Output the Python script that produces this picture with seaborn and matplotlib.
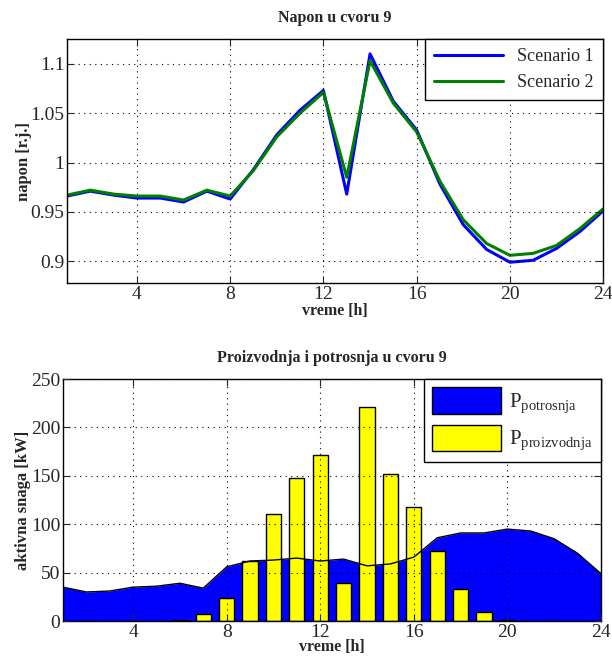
import numpy as np
import pandas as pd
import matplotlib
matplotlib.use('Agg')
import matplotlib.pyplot as plt
import seaborn as sns
from matplotlib.patches import Patch

sns.set_style('white')
plt.rcParams['font.family'] = ['Liberation Serif', 'DejaVu Serif']
plt.rcParams['mathtext.fontset'] = 'custom'
plt.rcParams['mathtext.rm'] = 'Liberation Serif'

hours = list(range(1, 25))
napon_s1 = [0.966, 0.971, 0.967, 0.964, 0.964, 0.960, 0.971, 0.963, 0.993, 1.028, 1.053, 1.073,
            0.968, 1.110, 1.062, 1.033, 0.978, 0.937, 0.912, 0.899, 0.901, 0.913, 0.930, 0.951]
napon_s2 = [0.967, 0.972, 0.968, 0.966, 0.966, 0.962, 0.972, 0.966, 0.992, 1.026, 1.050, 1.071,
            0.985, 1.103, 1.060, 1.031, 0.981, 0.942, 0.918, 0.906, 0.908, 0.916, 0.933, 0.953]
p_potrosnja = [35, 30, 31, 35, 36, 39, 34, 56, 62, 63, 65, 62,
               64, 57, 59, 66, 86, 91, 91, 95, 93, 85, 70, 49]
p_proizvodnja = [0, 0, 0, 0, 0, 1, 7, 24, 62, 111, 148, 172,
                 39, 221, 152, 118, 72, 33, 9, 1, 0, 0, 0, 0]

df_v = pd.DataFrame({'vreme': hours * 2,
                     'napon': napon_s1 + napon_s2,
                     'scenario': ['Scenario 1'] * 24 + ['Scenario 2'] * 24})

fig = plt.figure(figsize=(6.12, 6.61), dpi=100)
ax1 = fig.add_axes([0.1095, 0.5719, 0.876, 0.369])
ax2 = fig.add_axes([0.1029, 0.0605, 0.879, 0.366])

# --- top: napon ---
sns.lineplot(data=df_v, x='vreme', y='napon', hue='scenario',
             palette=['#0000ff', '#008000'], linewidth=2.2, ax=ax1, legend=False)
ax1.set_xlim(1, 24)
ax1.set_ylim(0.878, 1.125)
ax1.set_xticks([4, 8, 12, 16, 20, 24])
ax1.set_yticks([0.9, 0.95, 1.0, 1.05, 1.1])
ax1.set_yticklabels(['0.9', '0.95', '1', '1.05', '1.1'])
ax1.set_title('Napon u cvoru 9', fontsize=11.5, fontweight='bold', pad=12)
ax1.set_xlabel('vreme [h]', fontsize=11.5, fontweight='bold', labelpad=0)
ax1.set_ylabel('napon [r.j.]', fontsize=12, fontweight='bold', labelpad=-1)
h1 = [plt.Line2D([], [], color='#0000ff', lw=2.2), plt.Line2D([], [], color='#008000', lw=2.2)]
leg1 = ax1.legend(h1, ['Scenario 1', 'Scenario 2'], loc='upper right', fontsize=13,
                  handlelength=3.8, fancybox=False, framealpha=1, edgecolor='black',
                  borderaxespad=0, borderpad=0.5, labelspacing=0.5)
leg1.get_frame().set_linewidth(1.0)

# --- bottom: proizvodnja i potrosnja ---
ax2.fill_between(hours, p_potrosnja, 0, color='#0000ff', linewidth=0, zorder=1)
ax2.bar(hours, p_proizvodnja, width=0.65, color='#ffff00', edgecolor='black',
        linewidth=1.0, zorder=2)
sns.lineplot(x=hours, y=p_potrosnja, color='black', linewidth=1.0, ax=ax2, zorder=3)
ax2.set_xlim(1, 24)
ax2.set_ylim(0, 250)
ax2.set_xticks([4, 8, 12, 16, 20, 24])
ax2.set_yticks([0, 50, 100, 150, 200, 250])
ax2.set_title('Proizvodnja i potrosnja u cvoru 9', fontsize=11.5, fontweight='bold', pad=12)
ax2.set_xlabel('vreme [h]', fontsize=11.5, fontweight='bold', labelpad=-1)
ax2.set_ylabel('aktivna snaga [kW]', fontsize=12, fontweight='bold', labelpad=0)
h2 = [Patch(facecolor='#0000ff', edgecolor='black'), Patch(facecolor='#ffff00', edgecolor='black')]
leg2 = ax2.legend(h2, [r'P$_{\mathrm{potrosnja}}$', r'P$_{\mathrm{proizvodnja}}$'],
                  loc='upper right', fontsize=15, handlelength=3.3, handleheight=1.6,
                  fancybox=False, framealpha=1, edgecolor='black',
                  borderaxespad=0, borderpad=0.4, labelspacing=0.4, handletextpad=0.4)
leg2.get_frame().set_linewidth(1.0)

for ax in (ax1, ax2):
    ax.grid(True, color='black', linestyle=(0, (1, 4)), linewidth=0.8)
    ax.tick_params(direction='in', length=5, labelsize=14, top=True, right=True,
                   bottom=True, left=True, pad=2)
    for s in ax.spines.values():
        s.set_linewidth(1.0)
        s.set_color('black')
    ax.set_axisbelow(False)

fig.savefig('out.png', dpi=100)
